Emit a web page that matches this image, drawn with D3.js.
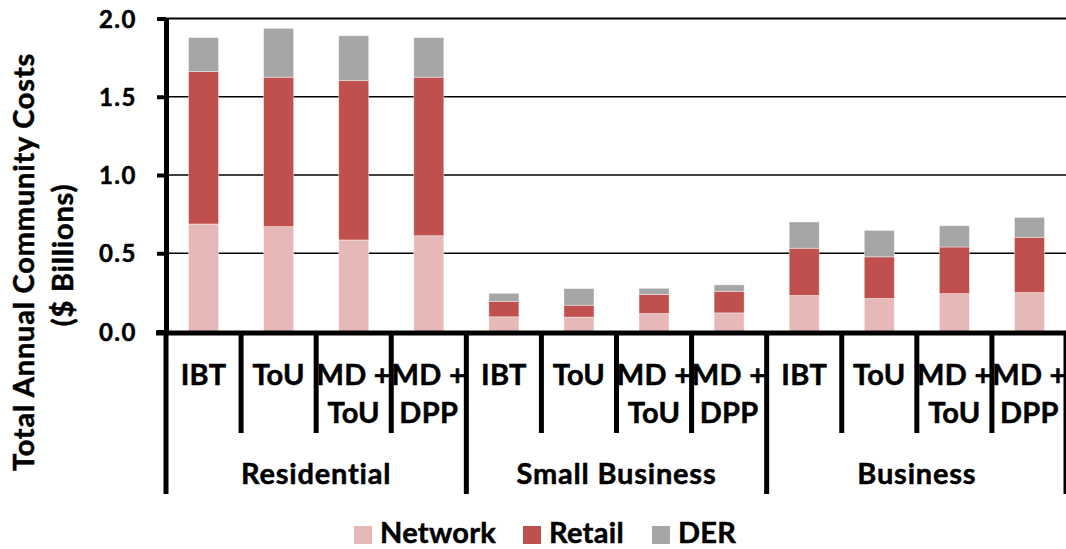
<!DOCTYPE html>
<html>
<head>
<meta charset="utf-8">
<script src="https://cdn.jsdelivr.net/npm/d3@7"></script>
<style>
  html, body { margin: 0; padding: 0; background: #fff; }
  svg { display: block; font-family: Lato, "Open Sans", sans-serif; font-weight: 700; }
  svg text { stroke: #000; stroke-width: 0.5px; }
</style>
</head>
<body>
<svg id="chart" width="1066" height="549"></svg>
<script>
// Customer groups and the tariff options evaluated for each
const groups = ["Residential", "Small Business", "Business"];
const tariffs = [["IBT"], ["ToU"], ["MD +", "ToU"], ["MD +", "DPP"]];

// Cost components ($ billions), one value per group/tariff pair
const network = [0.687, 0.670, 0.585, 0.612, 0.094, 0.092, 0.115, 0.119, 0.230, 0.211, 0.242, 0.249];
const retail  = [0.974, 0.955, 1.018, 1.013, 0.099, 0.076, 0.121, 0.138, 0.302, 0.266, 0.298, 0.353];
const der     = [0.217, 0.312, 0.287, 0.253, 0.051, 0.106, 0.040, 0.041, 0.168, 0.169, 0.136, 0.127];

const seriesNames = ["Network", "Retail", "DER"];
const seriesColors = ["#E6B9B8", "#C0504D", "#A6A6A6"];
const yTicks = [0, 0.5, 1.0, 1.5, 2.0];

const rows = [];
groups.forEach((g, gi) => tariffs.forEach((t, ti) => {
  const i = gi * tariffs.length + ti;
  rows.push({ i, group: g, tariff: t, Network: network[i], Retail: retail[i], DER: der[i] });
}));

const svg = d3.select("#chart");
const plotLeft = 166, plotRight = 1067, plotTop = 18.5, plotBase = 331.5;
const labelSize = 29, labelSpacing = 0.8;

const y = d3.scaleLinear().domain([0, 2]).range([plotBase, plotTop]);
const cell = d3.scaleBand().domain(rows.map(d => d.i)).range([plotLeft, plotRight]).padding(0);
const xBar = d3.scaleBand().domain(rows.map(d => d.i)).range([plotLeft, plotRight])
  .paddingInner(0.6).paddingOuter(0.3);
const color = d3.scaleOrdinal().domain(seriesNames).range(seriesColors);

// Horizontal gridlines
svg.append("g").selectAll("line").data(yTicks.filter(v => v > 0)).join("line")
  .attr("x1", plotLeft).attr("x2", plotRight)
  .attr("y1", d => y(d)).attr("y2", d => y(d))
  .attr("stroke", "#000").attr("stroke-width", d => d === 2 ? 2 : 1.5);

// Stacked bars
const stacked = d3.stack().keys(seriesNames)(rows);
svg.append("g").selectAll("g").data(stacked).join("g")
  .attr("fill", s => color(s.key))
  .selectAll("rect").data(s => s).join("rect")
  .attr("x", d => xBar(d.data.i))
  .attr("width", xBar.bandwidth())
  .attr("y", d => y(d[1]))
  .attr("height", d => y(d[0]) - y(d[1]))
  .attr("stroke", "#fff").attr("stroke-opacity", 0.5).attr("stroke-width", 0.8);

// Y axis
const yAxis = svg.append("g").attr("transform", `translate(${plotLeft},0)`)
  .call(d3.axisLeft(y).tickValues(yTicks).tickFormat(d3.format(".1f")).tickSize(9).tickSizeOuter(0).tickPadding(20));
yAxis.select(".domain").attr("stroke", "#000").attr("stroke-width", 5);
yAxis.selectAll(".tick line").attr("stroke", "#000").attr("stroke-width", 4);
yAxis.selectAll(".tick text").attr("font-family", "Lato, sans-serif").attr("font-weight", 700)
  .attr("font-size", 24).attr("letter-spacing", 1.5).attr("fill", "#000").attr("dy", "0.36em");

// X axis baseline
svg.append("line").attr("x1", 156).attr("x2", plotRight)
  .attr("y1", plotBase + 1.5).attr("y2", plotBase + 1.5)
  .attr("stroke", "#000").attr("stroke-width", 5);

// Category divider ticks: short between tariffs, long between groups
const bounds = d3.range(rows.length + 1);
svg.append("g").selectAll("line").data(bounds).join("line")
  .attr("x1", d => d < rows.length ? cell(d) : plotRight - 1)
  .attr("x2", d => d < rows.length ? cell(d) : plotRight - 1)
  .attr("y1", plotBase + 1.5)
  .attr("y2", d => d % tariffs.length === 0 ? 494 : 433)
  .attr("stroke", "#000").attr("stroke-width", 5);

// Tariff labels
const tl = svg.append("g").attr("font-size", labelSize).attr("letter-spacing", 0.3)
  .attr("text-anchor", "middle").attr("fill", "#000");
rows.forEach(r => {
  r.tariff.forEach((line, li) => {
    tl.append("text")
      .attr("x", cell(r.i) + cell.bandwidth() / 2)
      .attr("y", 385 + li * 38)
      .text(line);
  });
});

// Group labels
svg.append("g").attr("font-size", labelSize).attr("letter-spacing", labelSpacing)
  .attr("text-anchor", "middle").attr("fill", "#000")
  .selectAll("text").data(groups).join("text")
  .attr("x", (g, gi) => (cell(gi * 4) + (gi < groups.length - 1 ? cell(gi * 4 + 4) : plotRight)) / 2)
  .attr("y", 484)
  .text(d => d);

// Y axis title
const yt = svg.append("g").attr("font-size", labelSize).attr("letter-spacing", labelSpacing)
  .attr("text-anchor", "middle").attr("fill", "#000");
yt.append("text").attr("transform", "translate(34,262) rotate(-90)").text("Total Annual Community Costs");
yt.append("text").attr("transform", "translate(73,255) rotate(-90)").text("($ Billions)");

// Legend
const legendX = [354, 523, 652];
const lg = svg.append("g").selectAll("g").data(seriesNames).join("g")
  .attr("transform", (d, i) => `translate(${legendX[i]},526)`);
lg.append("rect").attr("width", 18).attr("height", 18).attr("fill", d => color(d)).attr("stroke", "none");
lg.append("text").attr("x", 26).attr("y", 17).attr("font-size", labelSize)
  .attr("letter-spacing", 0.3).attr("fill", "#000").text(d => d);
</script>
</body>
</html>
